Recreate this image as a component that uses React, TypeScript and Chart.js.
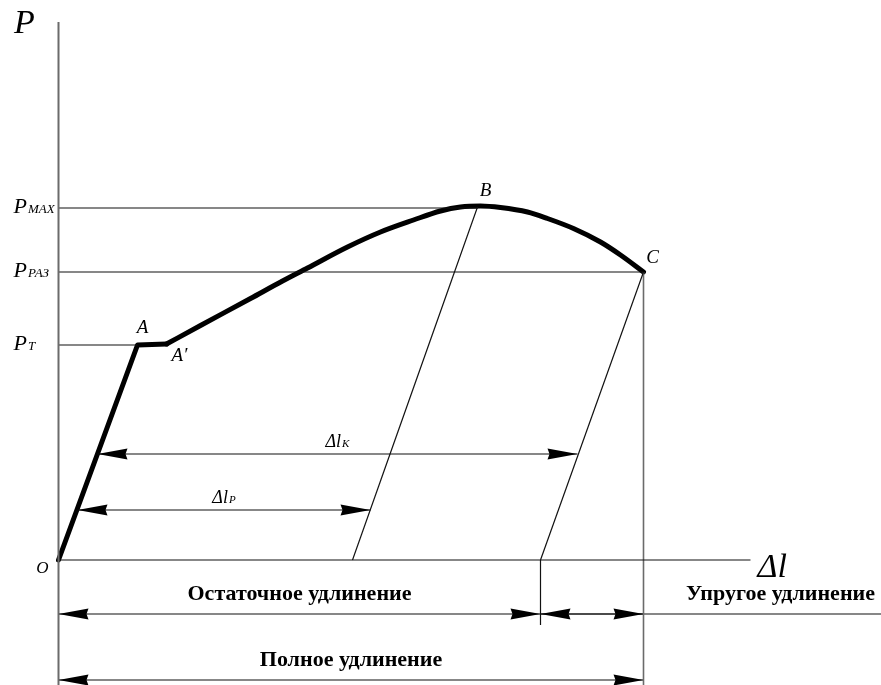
import { useEffect, useRef } from 'react';
import { Chart, registerables } from 'chart.js';

Chart.register(...registerables);

// Tension diagram P(Δl), arbitrary units
const curveDl = [0, 7.9, 10.8, 14.2, 19.2, 22.4, 24.9, 28.9, 32.2, 35.5, 38.2, 40.2, 42.2, 44.2, 46.9, 48.9, 51.5, 54.2, 56.2, 58.5];
const curveP = [0, 21.5, 21.6, 23.45, 26.15, 27.9, 29.2, 31.3, 32.8, 34.0, 34.9, 35.3, 35.4, 35.25, 34.8, 34.15, 33.15, 31.8, 30.5, 28.8];
const plateauEnd = 2; // index of A'

const levelSubs = ['MAX', 'РАЗ', 'T'];
const levelP = [35.2, 28.8, 21.5];
const levelDl = [41.9, 58.5, 7.9];

const pointNames = ['A', 'A′', 'B', 'C'];
const pointIdx = [1, 2, 12, 19];

const unloadFromDl = [41.9, 58.5];
const unloadFromP = [35.3, 28.8];
const unloadToDl = [29.4, 48.2];

const dimFrom = [1.9, 3.9, 0, 48.2, 0];
const dimTo = [31.2, 51.9, 48.2, 58.5, 58.5];
const dimAt = [5.0, 10.6, -5.4, -5.4, -12.0];
const dimText = ['Δl', 'Δl', 'Остаточное удлинение', 'Упругое удлинение', 'Полное удлинение'];
const dimSub = ['P', 'K', '', '', ''];

const X_MIN = -5.85, X_MAX = 82.25, Y_MIN = -12.5, Y_MAX = 56.0;
const Y_AXIS_TOP = 53.8;
const X_AXIS_END = 69.2;

const SERIF = "'Liberation Serif', 'DejaVu Serif', serif";

function seg(x1: number, y1: number, x2: number, y2: number, color: string, width: number) {
  return {
    data: [{ x: x1, y: y1 }, { x: x2, y: y2 }],
    showLine: true,
    borderColor: color,
    borderWidth: width,
    pointRadius: 0,
    tension: 0,
    fill: false,
  };
}

const overlay = {
  id: 'overlay',
  afterDatasetsDraw(chart: any) {
    const ctx: CanvasRenderingContext2D = chart.ctx;
    const xs = chart.scales.x, ys = chart.scales.y;
    const X = (v: number) => xs.getPixelForValue(v);
    const Y = (v: number) => ys.getPixelForValue(v);
    ctx.save();
    ctx.fillStyle = '#000';

    const arrow = (tipX: number, y: number, dir: number) => {
      const len = 30, hw = 5.5;
      ctx.beginPath();
      ctx.moveTo(tipX, y);
      ctx.lineTo(tipX + dir * len, y - hw);
      ctx.lineTo(tipX + dir * (len - 2), y);
      ctx.lineTo(tipX + dir * len, y + hw);
      ctx.closePath();
      ctx.fill();
    };

    dimFrom.forEach((f, i) => {
      const y = Y(dimAt[i]);
      arrow(X(f), y, 1);
      arrow(X(dimTo[i]), y, -1);
    });

    const sub = (main: string, s: string, x: number, y: number, mf: number, sf: number, align: 'left' | 'center') => {
      ctx.textBaseline = 'alphabetic';
      ctx.textAlign = 'left';
      ctx.font = `italic ${mf}px ${SERIF}`;
      const w1 = ctx.measureText(main).width;
      ctx.font = `italic ${sf}px ${SERIF}`;
      const w2 = ctx.measureText(s).width;
      const start = align === 'center' ? x - (w1 + w2 + 1) / 2 : x;
      ctx.font = `italic ${mf}px ${SERIF}`;
      ctx.fillText(main, start, y);
      ctx.font = `italic ${sf}px ${SERIF}`;
      ctx.fillText(s, start + w1 + 1, y);
    };

    // level labels
    levelP.forEach((p, i) => {
      sub('P', levelSubs[i], X(0) - 45, Y(p) + 5, 22, 13, 'left');
    });

    // dimension labels
    dimText.forEach((t, i) => {
      const y = Y(dimAt[i]);
      if (dimSub[i]) {
        sub(t, dimSub[i], X((dimFrom[i] + dimTo[i]) / 2), y - 7, 18, 11, 'center');
      } else {
        ctx.font = `bold 22px ${SERIF}`;
        ctx.textAlign = 'center';
        ctx.textBaseline = 'middle';
        const cx = i === 3 ? X(dimTo[i]) + 137 : X((dimFrom[i] + dimTo[i]) / 2);
        ctx.fillText(t, cx, y - 20);
      }
    });

    // point labels
    const offs = [[5, -17], [13, 12], [5, -15], [9, -14]];
    ctx.font = `italic 19px ${SERIF}`;
    ctx.textAlign = 'center';
    ctx.textBaseline = 'middle';
    pointNames.forEach((n, i) => {
      const k = pointIdx[i];
      ctx.fillText(n, X(curveDl[k]) + offs[i][0], Y(curveP[k]) + offs[i][1]);
    });

    // origin
    ctx.font = `italic 17px ${SERIF}`;
    ctx.fillText('O', X(0) - 16, Y(0) + 9);

    // axis titles
    ctx.font = `italic 34px ${SERIF}`;
    ctx.fillText('P', X(0) - 34, Y(Y_AXIS_TOP) + 2);
    ctx.textAlign = 'left';
    ctx.textBaseline = 'alphabetic';
    ctx.fillText('Δl', X(X_AXIS_END) + 7, Y(0) + 17);
    ctx.restore();
  },
};

export default function App() {
  const ref = useRef<HTMLCanvasElement>(null);
  useEffect(() => {
    if (!ref.current) return;
    const thin = '#111';
    const gray = '#6b6b6b';
    const datasets: any[] = [];
    datasets.push(seg(0, Y_AXIS_TOP, 0, Y_MIN, gray, 2));
    datasets.push(seg(0, 0, X_AXIS_END, 0, thin, 1.2));
    levelP.forEach((p, i) => datasets.push(seg(0, p, levelDl[i], p, thin, 1.2)));
    unloadFromDl.forEach((d, i) => datasets.push(seg(d, unloadFromP[i], unloadToDl[i], 0, thin, 1.2)));
    datasets.push(seg(curveDl[curveDl.length - 1], curveP[curveP.length - 1], curveDl[curveDl.length - 1], Y_MIN, gray, 1.6));
    datasets.push(seg(unloadToDl[1], 0, unloadToDl[1], dimAt[2] - 1.1, thin, 1.2));
    dimFrom.forEach((f, i) => {
      const end = i === 2 ? X_MAX : dimTo[i];
      datasets.push(seg(f, dimAt[i], end, dimAt[i], thin, 1.2));
    });
    // curve: elastic part + plateau
    datasets.push({
      data: curveDl.slice(0, plateauEnd + 1).map((x, i) => ({ x, y: curveP[i] })),
      showLine: true, borderColor: '#000', borderWidth: 5, pointRadius: 0, tension: 0,
      borderJoinStyle: 'round', borderCapStyle: 'round',
    });
    // hardening + necking
    datasets.push({
      data: curveDl.slice(plateauEnd).map((x, i) => ({ x, y: curveP[i + plateauEnd] })),
      showLine: true, borderColor: '#000', borderWidth: 5, pointRadius: 0,
      cubicInterpolationMode: 'monotone',
      borderJoinStyle: 'round', borderCapStyle: 'round',
    });

    const chart = new Chart(ref.current, {
      type: 'scatter',
      data: { datasets },
      options: {
        animation: false,
        responsive: true,
        maintainAspectRatio: false,
        layout: { padding: 0 },
        plugins: { legend: { display: false }, tooltip: { enabled: false } },
        scales: {
          x: { type: 'linear', min: X_MIN, max: X_MAX, display: false },
          y: { type: 'linear', min: Y_MIN, max: Y_MAX, display: false },
        },
      },
      plugins: [overlay],
    });
    return () => chart.destroy();
  }, []);

  return (
    <div style={{ position: 'absolute', left: 0, top: 0, width: 881, height: 685, background: '#fff' }}>
      <canvas ref={ref} />
    </div>
  );
}
